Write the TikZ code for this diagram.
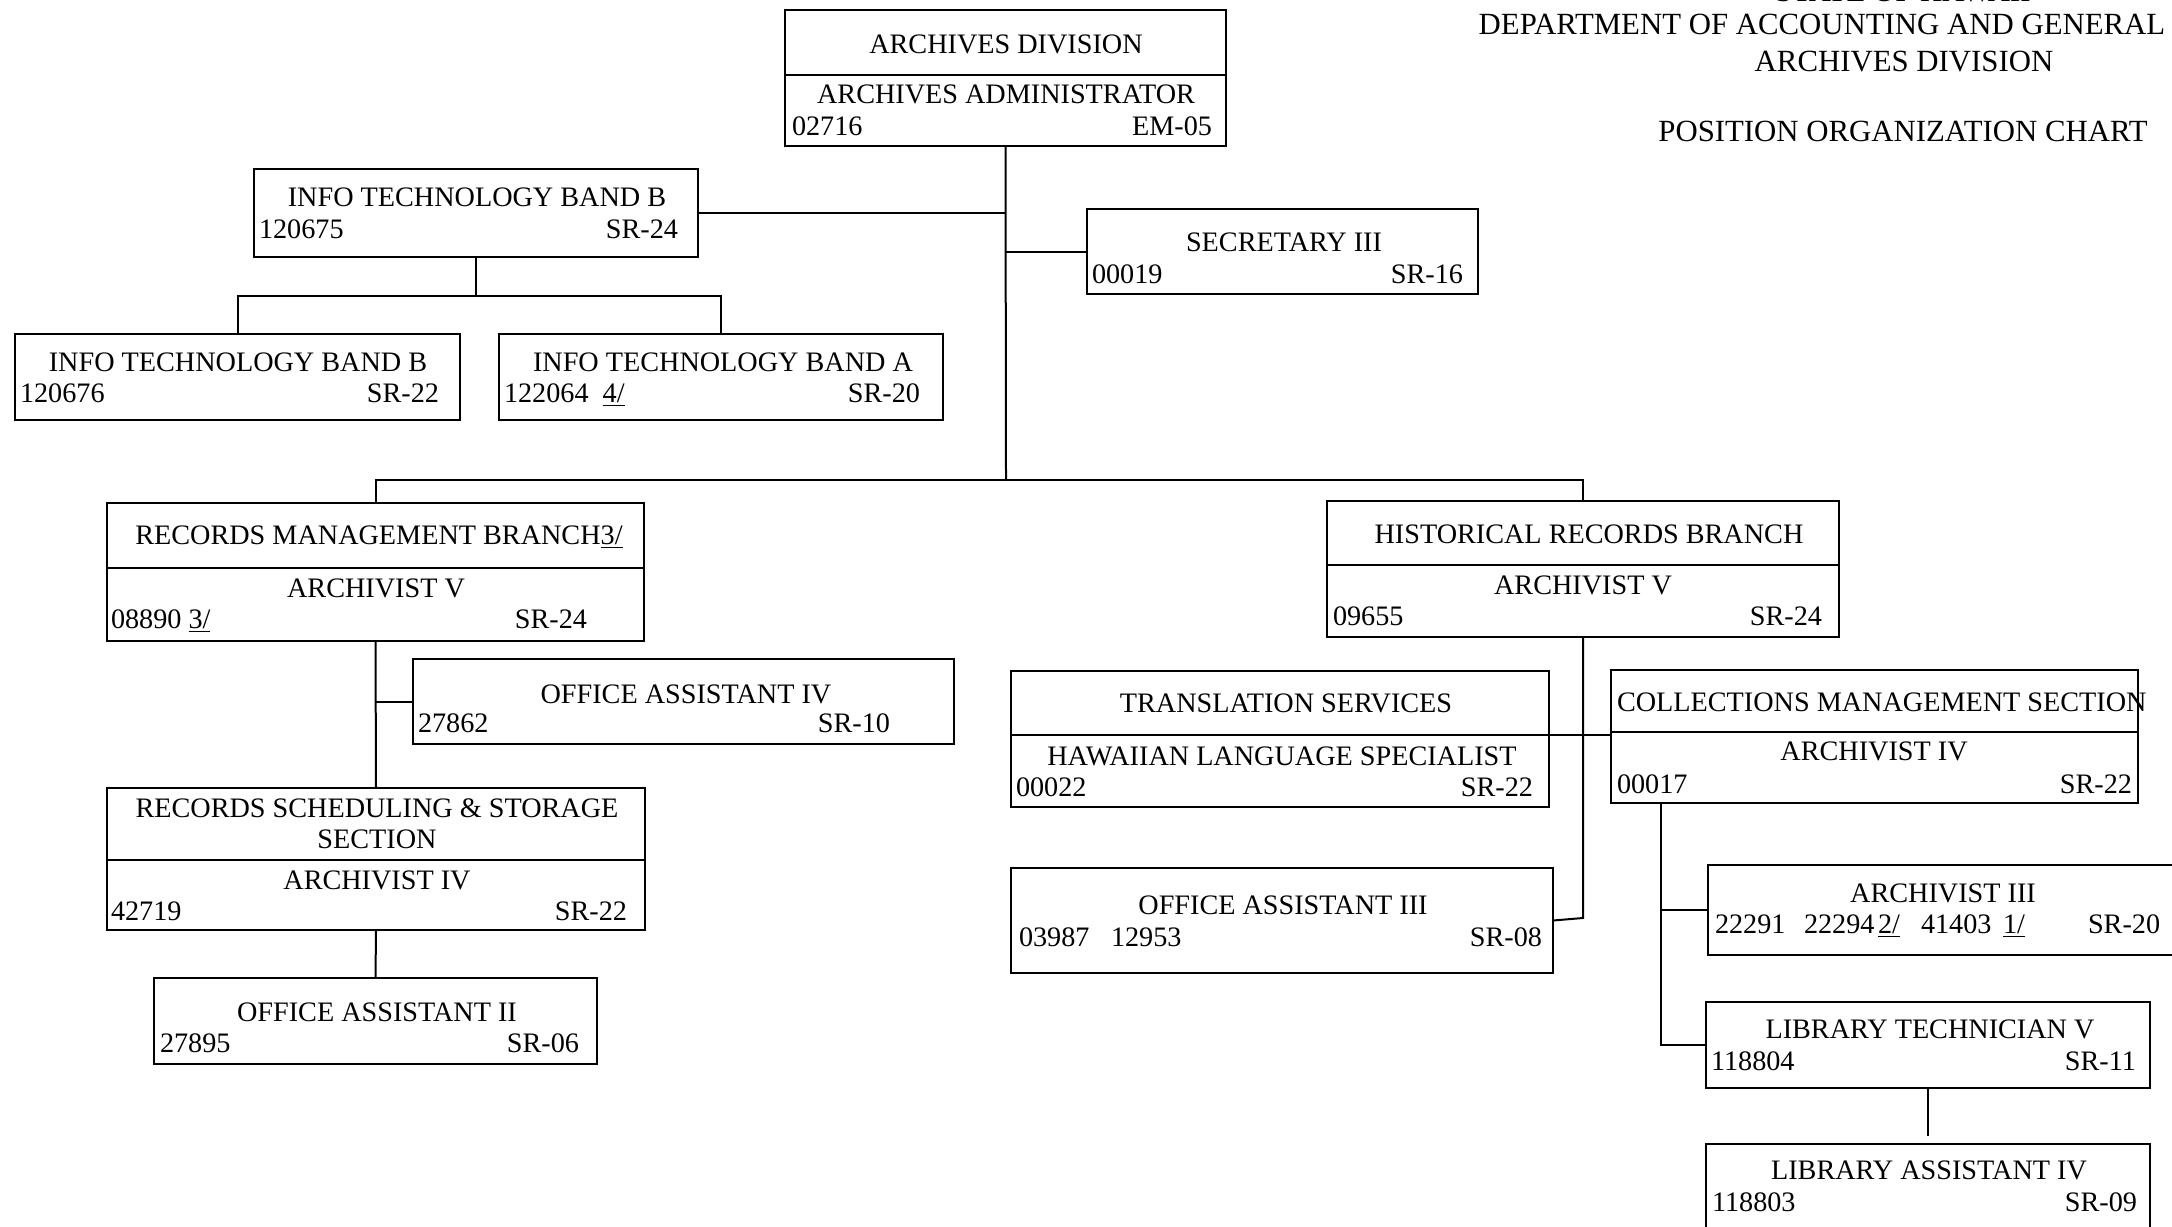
\documentclass[tikz,border=0pt]{standalone}
\usepackage{fontspec}
\setmainfont{Liberation Serif}
\usetikzlibrary{fit}
\tikzset{
 box/.style={draw, line width=1.2pt, inner sep=0pt, outer sep=0pt},
 divline/.style={line width=1.2pt},
 conn/.style={line width=1pt},
 txt/.style={inner sep=0pt, outer sep=0pt, anchor=base, font=\fontsize{14.1}{16}\selectfont},
 lft/.style={txt, anchor=base west},
 rgt/.style={txt, anchor=base east},
 hdr/.style={inner sep=0pt, outer sep=0pt, anchor=base, font=\fontsize{15.4}{18}\selectfont},
}
\begin{document}
\begin{tikzpicture}[x=0.5pt,y=-0.5pt]
\useasboundingbox (0,0) rectangle (2172,1226);
\clip (0,0) rectangle (2172,1226);

% header
\node[hdr] (h0) at (1903,2) {STATE OF HAWAII};
\node[hdr] (h1) at (1822,34) {DEPARTMENT OF ACCOUNTING AND GENERAL};
\node[hdr] (h2) at (1904,71) {ARCHIVES DIVISION};
\node[hdr] (h3) at (1903,141) {POSITION ORGANIZATION CHART};

% boxes
\node[box, fit={(785,10) (1226,146)}] (arch) {};
\node[box, fit={(254,169) (698,257)}] (itb) {};
\node[box, fit={(1087,209) (1478,294)}] (sec) {};
\node[box, fit={(15,334) (460,420)}] (itb1) {};
\node[box, fit={(499,334) (943,420)}] (itb2) {};
\node[box, fit={(107,503) (644,641)}] (rm) {};
\node[box, fit={(1327,501) (1839,637)}] (hist) {};
\node[box, fit={(413,659) (954,744)}] (oa4) {};
\node[box, fit={(1011,671) (1549,807)}] (trans) {};
\node[box, fit={(1611,670) (2138,803)}] (coll) {};
\node[box, fit={(107,788) (645,930)}] (rss) {};
\node[box, fit={(1011,868) (1553,973)}] (oa3) {};
\node[box, fit={(1708,865) (2200,955)}] (a3) {};
\node[box, fit={(1706,1002) (2150,1088)}] (libt) {};
\node[box, fit={(154,978) (597,1064)}] (oa2) {};
\node[box, fit={(1706,1144) (2150,1260)}] (liba) {};

% dividers
\draw[divline] (arch.west |- 0,75) -- (arch.east |- 0,75);
\draw[divline] (rm.west |- 0,568) -- (rm.east |- 0,568);
\draw[divline] (hist.west |- 0,565) -- (hist.east |- 0,565);
\draw[divline] (trans.west |- 0,735) -- (trans.east |- 0,735);
\draw[divline] (coll.west |- 0,732) -- (coll.east |- 0,732);
\draw[divline] (rss.west |- 0,860) -- (rss.east |- 0,860);

% texts
\node[txt] (arch1) at (1006,54) {ARCHIVES DIVISION};
\node[txt] (arch2) at (1006,103) {ARCHIVES ADMINISTRATOR};
\node[lft] (arch3) at (792,135) {02716};
\node[rgt] (arch4) at (1212,135) {EM-05};

\node[txt] (itb-a) at (477,206) {INFO TECHNOLOGY BAND B};
\node[lft] (itb-b) at (259,238) {120675};
\node[rgt] (itb-c) at (678,238) {SR-24};

\node[txt] (sec-a) at (1284,251) {SECRETARY III};
\node[lft] (sec-b) at (1092,283) {00019};
\node[rgt] (sec-c) at (1463,283) {SR-16};

\node[txt] (itb1-a) at (238,371) {INFO TECHNOLOGY BAND B};
\node[lft] (itb1-b) at (20,402) {120676};
\node[rgt] (itb1-c) at (439,402) {SR-22};

\node[txt] (itb2-a) at (723,371) {INFO TECHNOLOGY BAND A};
\node[lft] (itb2-b) at (504,402) {122064\ \ \underline{4/}};
\node[rgt] (itb2-c) at (920,402) {SR-20};

\node[txt] (rm-a) at (379,544) {RECORDS MANAGEMENT BRANCH\underline{3/}};
\node[txt] (rm-b) at (376,597) {ARCHIVIST V};
\node[lft] (rm-c) at (111,628) {08890 \underline{3/}};
\node[rgt] (rm-d) at (587,628) {SR-24};

\node[txt] (oa4-a) at (686,703) {OFFICE ASSISTANT IV};
\node[lft] (oa4-b) at (418,732) {27862};
\node[rgt] (oa4-c) at (890,732) {SR-10};

\node[txt] (rss-a) at (377,817) {RECORDS SCHEDULING \& STORAGE};
\node[txt] (rss-b) at (377,848) {SECTION};
\node[txt] (rss-c) at (377,889) {ARCHIVIST IV};
\node[lft] (rss-d) at (111,920) {42719};
\node[rgt] (rss-e) at (627,920) {SR-22};

\node[txt] (oa2-a) at (377,1021) {OFFICE ASSISTANT II};
\node[lft] (oa2-b) at (160,1052) {27895};
\node[rgt] (oa2-c) at (579,1052) {SR-06};

\node[txt] (hist-a) at (1589,543) {HISTORICAL RECORDS BRANCH};
\node[txt] (hist-b) at (1583,594) {ARCHIVIST V};
\node[lft] (hist-c) at (1333,625) {09655};
\node[rgt] (hist-d) at (1822,625) {SR-24};

\node[txt] (trans-a) at (1286,712) {TRANSLATION SERVICES};
\node[txt] (trans-b) at (1282,765) {HAWAIIAN LANGUAGE SPECIALIST};
\node[lft] (trans-c) at (1016,796) {00022};
\node[rgt] (trans-d) at (1533,796) {SR-22};

\node[lft] (coll-a) at (1617,711) {COLLECTIONS MANAGEMENT SECTION};
\node[txt] (coll-b) at (1874,760) {ARCHIVIST IV};
\node[lft] (coll-c) at (1617,793) {00017};
\node[rgt] (coll-d) at (2132,793) {SR-22};

\node[txt] (oa3-a) at (1283,914) {OFFICE ASSISTANT III};
\node[lft] (oa3-b) at (1019,946) {03987};
\node[lft] (oa3-c) at (1111,946) {12953};
\node[rgt] (oa3-d) at (1542,946) {SR-08};

\node[txt] (a3-a) at (1943,902) {ARCHIVIST III};
\node[lft] (a3-b) at (1715,933) {22291};
\node[lft] (a3-c) at (1804,933) {22294};
\node[lft] (a3-d) at (1878,933) {\underline{2/}};
\node[lft] (a3-e) at (1921,933) {41403};
\node[lft] (a3-f) at (2003,933) {\underline{1/}};
\node[lft] (a3-g) at (2088,933) {SR-20};

\node[txt] (libt-a) at (1930,1038) {LIBRARY TECHNICIAN V};
\node[lft] (libt-b) at (1711,1070) {118804};
\node[rgt] (libt-c) at (2136,1070) {SR-11};

\node[txt] (liba-a) at (1929,1179) {LIBRARY ASSISTANT IV};
\node[lft] (liba-b) at (1712,1211) {118803};
\node[rgt] (liba-c) at (2137,1211) {SR-09};

% connectors
\coordinate (j1) at (1006,480);
\coordinate (h1) at (476,296);
\draw[conn] (arch.south) -- (j1);
\draw[conn] (itb.east) -- (arch.south |- itb.east);
\draw[conn] (sec.west) -- (arch.south |- sec.west);
\draw[conn] (itb.south) -- (h1);
\draw[conn] (itb1.north) |- (h1) -| (itb2.north);
\draw[conn] (rm.north) |- (j1) -| (hist.north);
\draw[conn] (rm.south) -- (rss.north);
\draw[conn] (oa4.west) -- (rm.south |- oa4.west);
\draw[conn] (rss.south) -- (oa2.north);
\coordinate (hb) at (1583,918);
\draw[conn] (hist.south) -- (hb) -- (oa3.east);
\draw[conn] (trans.east |- 0,735) -- (coll.west |- 0,735);
\coordinate (cb) at (1661,803);
\draw[conn] (cb) |- (libt.west);
\draw[conn] (a3.west) -- (a3.west -| cb);
\coordinate (lt) at (1928,1136);
\draw[conn] (libt.south) -- (lt);
\end{tikzpicture}
\end{document}
